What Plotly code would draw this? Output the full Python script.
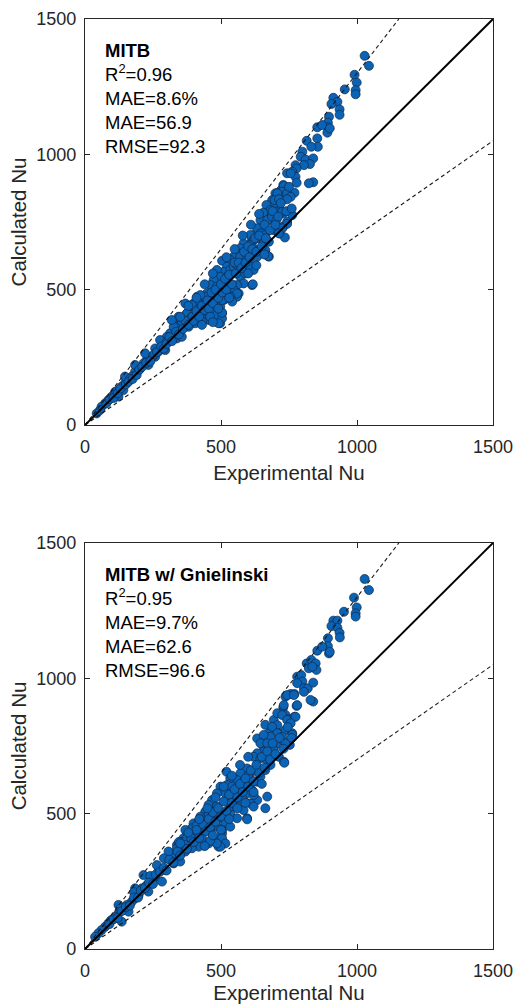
import plotly.graph_objects as go

# ---------------- data ----------------
top_x = [1028, 1044, 991, 999, 955, 995, 995, 913, 928, 906, 936, 936, 897, 854, 893, 893, 891, 872, 900,
         815, 854, 856, 832, 799, 793, 811, 839, 827, 805, 774, 778, 743, 762, 774, 778, 839, 729, 721,
         709, 700, 731, 743, 770, 688, 694, 707, 716, 729, 672, 657, 679, 694, 743, 729, 716, 694, 645,
         620, 614, 633, 735,
         756, 823, 731, 725, 743, 756, 707, 697, 713, 743, 667, 682, 700, 725, 655, 645, 670, 688, 704,
         762, 743, 725, 713, 633, 645, 663, 608, 620, 608, 596, 620, 657, 676, 663, 676, 645, 633, 583,
         571, 559, 547, 534, 571, 596, 583, 608, 620, 504, 522, 510, 485, 497, 473, 461, 485, 522, 534,
         547, 559, 614, 571, 583, 559, 547, 565, 534, 559, 448, 461, 436, 412, 399, 424, 448, 473, 497,
         510, 497, 473, 454, 436, 424, 387, 375, 362, 350, 338, 485, 504, 485, 497,
         559, 534, 504, 541, 473, 442, 424, 412, 393, 369, 375, 393, 418, 442, 467, 485, 504, 491, 455,
         430, 405, 381, 356, 332, 313, 301, 319, 338, 356, 283, 258, 270, 295, 246, 227, 215, 233, 203,
         184, 172, 160, 147, 135, 123, 111, 98, 86, 74, 61, 55, 43, 141, 123, 147, 184, 221, 258, 276,
         326, 344, 319, 504, 617, 673, 590, 600, 520, 460, 420, 380, 300, 250, 200, 165, 110, 78,
         90, 105, 120, 130, 150, 160, 175, 190, 200, 210, 225, 240, 255, 265, 280, 290, 300, 310, 320,
         335, 345, 360, 370, 380, 395, 400, 410, 420, 430, 440, 450, 455, 465, 470, 480, 490, 500, 505,
         515, 520, 530, 540, 550, 555, 565, 575, 585, 590, 600, 605, 615, 625, 630, 640, 650, 660, 665,
         680, 690, 700, 710, 720, 740, 750, 760, 470, 440, 410, 380, 350, 520, 550, 580, 610, 640, 430,
         460, 490, 530, 470, 600, 630, 660]
top_y = [1364, 1327, 1294, 1265, 1240, 1237, 1222, 1209, 1194, 1186, 1166, 1146, 1139, 1100, 1117, 1100, 1080, 1108, 1096,
         1050, 1059, 1028, 1028, 1010, 991, 981, 985, 964, 960, 960, 948, 930, 936, 917, 895, 897, 887, 868,
         858, 856, 866, 843, 858, 831, 807, 788, 792, 782, 782, 770, 757, 764, 751, 733, 708, 720, 720,
         702, 683, 690, 693,
         930, 893, 883, 862, 856, 843, 856, 831, 834, 834, 813, 794, 788, 788, 784, 757, 757, 769, 757,
         776, 743, 727, 708, 727, 708, 702, 702, 683, 665, 646, 653, 671, 677, 646, 622, 634, 622, 671,
         653, 634, 622, 610, 622, 616, 597, 597, 573, 607, 585, 566, 573, 548, 536, 517, 511, 548, 573,
         585, 591, 517, 548, 523, 517, 499, 486, 474, 474, 486, 474, 468, 474, 449, 449, 449, 462, 474,
         462, 437, 425, 413, 400, 413, 437, 413, 388, 369, 376, 413, 413, 382, 376,
         486, 474, 462, 456, 486, 474, 480, 456, 443, 449, 413, 400, 413, 425, 425, 406, 394, 376, 388,
         382, 376, 363, 376, 363, 339, 326, 314, 320, 326, 302, 283, 271, 277, 252, 240, 228, 222, 209,
         197, 179, 166, 154, 142, 129, 123, 105, 92, 80, 68, 55, 43, 129, 105, 179, 222, 265, 252, 314,
         363, 400, 388, 415, 520, 624, 560, 590, 530, 455, 430, 385, 305, 255, 205, 170, 112, 80,
         95, 100, 118, 135, 150, 160, 170, 185, 205, 215, 230, 235, 262, 270, 290, 282, 300, 325, 310,
         345, 335, 355, 385, 370, 400, 385, 420, 400, 440, 425, 460, 430, 490, 450, 500, 470, 520, 490,
         540, 500, 555, 520, 600, 560, 600, 580, 640, 600, 660, 620, 650, 690, 640, 700, 660, 740, 690,
         720, 790, 740, 770, 820, 790, 880, 800, 560, 520, 470, 440, 400, 620, 650, 700, 740, 780, 370,
         400, 430, 470, 380, 560, 590, 630]

bot_x = [1028, 1044, 989, 999, 995, 995, 952, 913, 928, 906, 928, 936, 937, 893, 893, 897, 854, 872, 900,
         815, 832, 848, 851, 823, 836, 780, 795, 799, 780, 805, 819, 839, 839, 737, 756, 770, 778, 729,
         721, 737, 749, 770, 694, 707, 688, 676, 719, 737, 762, 645, 657, 633, 731, 753,
         743, 768, 805, 829, 731, 707, 725, 743, 774, 780, 756, 663, 688, 707, 682, 657, 645, 670, 700,
         725, 762, 737, 694, 657, 633, 620, 645, 670, 713, 731, 682, 663, 733,
         520, 596, 608, 571, 559, 534, 583, 608, 633, 645, 614, 596, 578, 547, 522, 498, 516, 534, 559,
         583, 633, 608, 620, 670, 663, 620, 485, 467, 454, 485, 473, 442, 424, 448, 473, 504, 534, 516,
         485, 461, 436, 418, 399, 387, 375, 362, 350, 338, 491, 485, 504, 534, 559, 596, 583,
         504, 504, 491, 516, 534, 559, 467, 442, 418, 393, 369, 375, 405, 430, 455, 418, 393, 369, 338,
         319, 301, 326, 350, 295, 270, 258, 283, 246, 227, 209, 233, 197, 184, 172, 154, 141, 123, 111,
         98, 86, 74, 61, 49, 37, 160, 135, 123, 184, 215, 264, 307, 356, 596, 498, 485, 540, 600, 455,
         410, 345, 290, 240, 180, 130, 95,
         90, 105, 120, 135, 150, 165, 180, 195, 205, 220, 235, 250, 260, 275, 290, 300, 310, 325, 340,
         350, 365, 375, 390, 400, 410, 420, 435, 445, 455, 460, 470, 480, 490, 500, 510, 520, 530, 540,
         550, 560, 570, 580, 590, 600, 610, 620, 630, 640, 650, 660, 670, 680, 690, 700, 715, 730, 745,
         760, 420, 450, 480, 510, 540, 570, 600, 380, 350, 460, 500, 530, 560, 590, 620, 650, 440, 470]
bot_y = [1367, 1326, 1298, 1262, 1240, 1228, 1246, 1213, 1213, 1193, 1187, 1168, 1151, 1148, 1119, 1092, 1102, 1117, 1098,
         1055, 1068, 1055, 1031, 1037, 1043, 1006, 1012, 988, 982, 963, 963, 984, 914, 932, 942, 942, 898, 893,
         871, 865, 849, 858, 846, 827, 809, 797, 797, 809, 797, 772, 747, 778, 766, 754,
         938, 938, 950, 920, 901, 871, 864, 846, 858, 901, 834, 828, 821, 797, 784, 791, 760, 760, 754,
         784, 791, 760, 736, 729, 723, 710, 704, 698, 710, 692, 680, 661, 688,
         655, 667, 649, 649, 624, 631, 618, 612, 618, 637, 587, 575, 587, 594, 606, 600, 575, 563, 557,
         550, 550, 538, 569, 563, 520, 526, 575, 550, 532, 526, 507, 507, 489, 489, 477, 483, 501, 464,
         452, 440, 433, 440, 464, 440, 421, 409, 396, 384, 403, 390, 427, 526, 526, 483, 513,
         440, 409, 378, 390, 452, 483, 470, 458, 470, 446, 440, 409, 421, 409, 390, 378, 372, 360, 372,
         347, 335, 316, 323, 292, 286, 267, 249, 255, 236, 224, 212, 199, 187, 175, 163, 144, 132, 119,
         107, 95, 82, 70, 58, 45, 138, 101, 163, 224, 273, 310, 360, 384, 479, 378, 390, 600, 640, 495,
         455, 395, 335, 270, 210, 150, 105,
         92, 110, 115, 140, 155, 160, 190, 190, 215, 225, 245, 240, 275, 285, 300, 290, 330, 320, 360,
         345, 385, 370, 410, 395, 440, 410, 460, 435, 480, 450, 505, 470, 520, 490, 545, 510, 570, 540,
         590, 560, 610, 580, 630, 600, 660, 620, 680, 650, 710, 670, 730, 700, 760, 720, 780, 740, 820,
         780, 480, 520, 560, 600, 640, 680, 710, 430, 390, 400, 440, 480, 520, 540, 580, 610, 380, 420]

ref_ratios = [1.3, 0.7]          # +/-30 % bands
axis_max = 1500
tick_vals = [0, 500, 1000, 1500]

panel_titles = ["MITB", "MITB w/ Gnielinski"]
panel_stats = [["R<sup>2</sup>=0.96", "MAE=8.6%", "MAE=56.9", "RMSE=92.3"],
               ["R<sup>2</sup>=0.95", "MAE=9.7%", "MAE=62.6", "RMSE=96.6"]]

# ---------------- figure ----------------
FONT = "Liberation Sans, Arial, Helvetica, sans-serif"
INK = "#262626"
fig = go.Figure()

panels = [("x", "y", top_x, top_y), ("x2", "y2", bot_x, bot_y)]
for xa, ya, xs, ys in panels:
    fig.add_trace(go.Scatter(
        x=xs, y=ys, mode="markers", xaxis=xa, yaxis=ya, showlegend=False,
        marker=dict(size=9, color="#0a63b4", line=dict(color="#10284a", width=0.7))))
    for r in ref_ratios:
        xe = min(axis_max, axis_max / r)
        fig.add_trace(go.Scatter(
            x=[0, xe], y=[0, xe * r], mode="lines", xaxis=xa, yaxis=ya, showlegend=False,
            line=dict(color="#1a1a1a", width=1.1, dash="4px,3px")))
    fig.add_trace(go.Scatter(
        x=[0, axis_max], y=[0, axis_max], mode="lines", xaxis=xa, yaxis=ya, showlegend=False,
        line=dict(color="black", width=2)))

axis_common = dict(range=[0, axis_max], tickvals=tick_vals, ticks="inside", ticklen=5,
                   tickwidth=1, tickcolor=INK, showline=True, linecolor=INK, linewidth=1.2,
                   mirror="allticks", showgrid=False, zeroline=False, automargin=False,
                   ticklabeloverflow="allow",
                   tickfont=dict(family=FONT, size=18, color=INK))
title_font = dict(family=FONT, size=20.5, color=INK)

fig.update_layout(
    width=513, height=1004,
    margin=dict(l=85, r=20, t=19, b=55),
    paper_bgcolor="white", plot_bgcolor="white",
    font=dict(family=FONT, color=INK),
    xaxis=dict(**axis_common, domain=[0, 1], anchor="y", ticklabelstandoff=5,
               title=dict(text="Experimental Nu", font=title_font, standoff=9)),
    yaxis=dict(**axis_common, domain=[0.5634, 1], anchor="x", ticklabelstandoff=4,
               title=dict(text="Calculated Nu", font=title_font, standoff=4)),
    xaxis2=dict(**axis_common, domain=[0, 1], anchor="y2", ticklabelstandoff=5,
                title=dict(text="Experimental Nu", font=title_font, standoff=9)),
    yaxis2=dict(**axis_common, domain=[0, 0.4366], anchor="x2", ticklabelstandoff=4,
                title=dict(text="Calculated Nu", font=title_font, standoff=4)),
)

for i, (xa, ya) in enumerate([("x", "y"), ("x2", "y2")]):
    text = "<b>" + panel_titles[i] + "</b><br>" + "<br>".join(panel_stats[i])
    fig.add_annotation(
        xref=xa + " domain", yref=ya + " domain", x=0.045, y=0.952,
        xanchor="left", yanchor="top", align="left", showarrow=False,
        text=text, font=dict(family=FONT, size=18.5, color="black"))

fig.write_html("out.html")
